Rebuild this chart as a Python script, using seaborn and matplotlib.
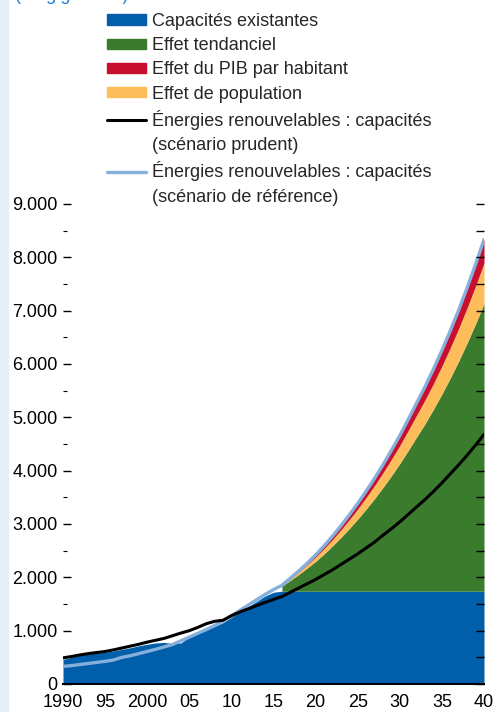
import matplotlib
matplotlib.use("Agg")
import matplotlib.pyplot as plt
from matplotlib.patches import Patch, Rectangle
from matplotlib.lines import Line2D
from matplotlib.ticker import MultipleLocator
import numpy as np
import seaborn as sns

# Data (GW)
years_all = list(range(1990, 2041))
years_proj = list(range(2016, 2041))

existing = [460, 500, 560, 570, 580, 595, 620, 650, 680, 715,
            745, 770, 780, 760, 770, 880, 950, 1010, 1080, 1150,
            1250, 1350, 1450, 1550, 1650, 1720, 1740, 1740, 1740, 1740,
            1740, 1740, 1740, 1740, 1740, 1740, 1740, 1740, 1740, 1740,
            1740, 1740, 1740, 1740, 1740, 1740, 1740, 1740, 1740, 1740,
            1740]
trend = [95, 205, 315, 435, 560, 700, 848, 1008, 1176, 1352,
         1540, 1737, 1945, 2166, 2394, 2640, 2893, 3143, 3413, 3698,
         4000, 4318, 4656, 5015, 5395]
population = [10, 27, 43, 60, 78, 98, 118, 141, 165, 190,
              217, 245, 275, 306, 338, 373, 409, 444, 482, 523,
              566, 611, 659, 710, 760]
pib = [5, 13, 22, 30, 42, 52, 64, 76, 89, 103,
       118, 133, 150, 168, 188, 207, 228, 248, 270, 294,
       319, 346, 375, 405, 440]
prudent = [490, 515, 545, 570, 590, 610, 640, 675, 710, 745,
           785, 820, 855, 905, 955, 1000, 1060, 1130, 1175, 1195,
           1280, 1350, 1410, 1470, 1530, 1585, 1640, 1720, 1800, 1880,
           1960, 2050, 2140, 2240, 2340, 2440, 2550, 2660, 2790, 2910,
           3040, 3180, 3320, 3460, 3610, 3770, 3940, 4110, 4290, 4480,
           4680]
reference_hist = [330, 345, 365, 385, 405, 425, 450, 500, 530, 570,
                  610, 650, 695, 740, 810, 880, 950, 1020, 1095, 1180,
                  1280, 1380, 1480, 1580, 1680, 1770]

y_ticks = [0, 1000, 2000, 3000, 4000, 5000, 6000, 7000, 8000, 9000]
y_tick_labels = ["0", "1.000", "2.000", "3.000", "4.000", "5.000",
                 "6.000", "7.000", "8.000", "9.000"]
x_ticks = [1990, 1995, 2000, 2005, 2010, 2015, 2020, 2025, 2030, 2035, 2040]
x_tick_labels = ["1990", "95", "2000", "05", "10", "15", "20", "25", "30", "35", "40"]

legend_labels = ["Capacités existantes", "Effet tendanciel",
                 "Effet du PIB par habitant", "Effet de population",
                 "Énergies renouvelables : capacités", "(scénario prudent)",
                 "Énergies renouvelables : capacités", "(scénario de référence)"]

BLUE = "#005eab"
GREEN = "#3a7b2d"
RED = "#c8102e"
ORANGE = "#fdbd5b"
LIGHT = "#86b0dc"

sns.set_theme(style="white")
plt.rcParams["font.family"] = ["Liberation Sans", "DejaVu Sans"]
FS = 13

fig = plt.figure(figsize=(4.94, 7.12), dpi=100)
fig.patches.append(Rectangle((0, 0), 8 / 494, 1, transform=fig.transFigure,
                             color="#e6eff8", zorder=0))
fig.text(0.03, 1.0, "(en gigawatts)", color="#1a7fd6", fontsize=FS, va="baseline")

ax = fig.add_axes([63 / 494, 28 / 712, 421 / 494, 480 / 712])

# Stacked areas
ax.fill_between(years_all, 0, existing, color=BLUE, lw=0)
base = np.array(existing[26:], dtype=float)
for layer, col in [(trend, GREEN), (population, ORANGE), (pib, RED)]:
    top = base + np.array(layer)
    ax.fill_between(years_proj, base, top, color=col, lw=0)
    base = top

reference = reference_hist + list(base)
sns.lineplot(x=years_all, y=reference, color=LIGHT, lw=2.4, ax=ax)
sns.lineplot(x=years_all, y=prudent, color="black", lw=2.2, ax=ax)

ax.set_xlim(1990, 2040)
ax.set_ylim(0, 9000)
for s in ["left", "right", "top"]:
    ax.spines[s].set_visible(False)
ax.spines["bottom"].set_color("black")
ax.spines["bottom"].set_linewidth(1.5)

ax.set_xticks(x_ticks)
ax.set_xticklabels(x_tick_labels)
ax.set_yticks(y_ticks)
ax.set_yticklabels(y_tick_labels)
ax.yaxis.set_minor_locator(MultipleLocator(500))
ax.tick_params(axis="x", length=0, pad=7, labelsize=FS, colors="black")
ax.tick_params(axis="y", which="major", direction="in", length=6, width=1,
               pad=4, labelsize=FS, left=True, colors="black")
ax.tick_params(axis="y", which="minor", direction="in", length=3, width=0.8,
               left=True, colors="black")
ax.set_xlabel("")
ax.set_ylabel("")

# right-hand ticks
ax2 = ax.twinx()
ax2.set_ylim(0, 9000)
ax2.set_yticks(np.arange(0, 9001, 500))
ax2.tick_params(axis="y", direction="in", length=5.5, width=1, labelright=False,
                right=True, colors="black")
for s in ax2.spines.values():
    s.set_visible(False)

handles = [Patch(color=BLUE), Patch(color=GREEN), Patch(color=RED), Patch(color=ORANGE),
           Line2D([], [], color="black", lw=2.2), Line2D([], [], alpha=0),
           Line2D([], [], color=LIGHT, lw=2.4), Line2D([], [], alpha=0)]
fig.legend(handles, legend_labels, loc="upper left", bbox_to_anchor=(107 / 494, 1 - 13 / 712),
           frameon=False, fontsize=FS, handlelength=2.15, handleheight=0.5,
           handletextpad=0.33, labelspacing=0.4, borderpad=0, borderaxespad=0)

fig.savefig("out.png", dpi=100)
